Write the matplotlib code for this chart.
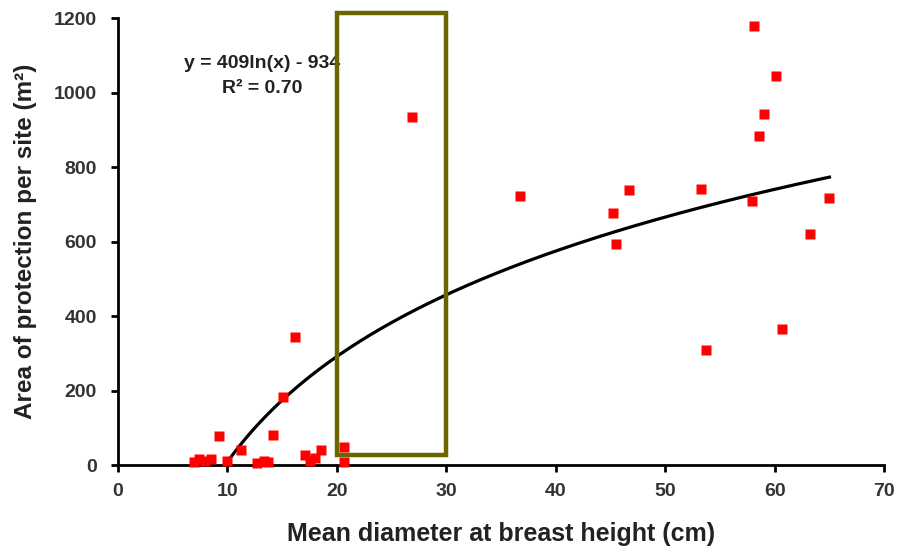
import numpy as np
import matplotlib
matplotlib.use("Agg")
import matplotlib.pyplot as plt
from matplotlib.patches import Rectangle

plt.rcParams['font.family'] = ['Liberation Sans', 'DejaVu Sans']
plt.rcParams['font.weight'] = 'bold'

# Mean diameter at breast height (cm) and area of protection per site (m2)
dbh = [7.0, 7.4, 8.0, 8.5, 9.3, 10.0, 11.3, 12.7, 13.4, 13.7, 14.2, 15.1, 16.2,
       17.1, 17.6, 18.0, 18.6, 20.7, 20.7, 26.9,
       36.7, 45.2, 45.5, 46.7, 53.3, 53.7, 57.9, 58.1, 58.6, 59.0, 60.1, 60.7,
       63.2, 65.0]
area = [8, 15, 12, 15, 78, 10, 40, 5, 10, 8, 80, 183, 343,
        27, 10, 20, 40, 48, 8, 935,
        722, 678, 593, 740, 741, 309, 709, 1179, 884, 942, 1044, 365,
        620, 717]

# fitted logarithmic trend: y = a ln(x) + b
fit_a = 409
fit_b = -934
fit_xmin, fit_xmax = 9.8, 65.0

# highlighted range
box_x = (20, 30)
box_y = (27, 1213)

fig = plt.figure(figsize=(9.05, 5.53), dpi=100)
ax = fig.add_axes([0.130, 0.159, 0.847, 0.808])

xf = np.linspace(fit_xmin, fit_xmax, 300)
ax.plot(xf, fit_a * np.log(xf) + fit_b, color='black', lw=2.3, zorder=2)
ax.plot(dbh, area, 's', color='#ff0000', markersize=7.5, mec='none', zorder=3,
        clip_on=False)

ax.add_patch(Rectangle((box_x[0], box_y[0]), box_x[1] - box_x[0], box_y[1] - box_y[0],
                       fill=False, edgecolor='#6b6500', lw=3.2, zorder=4, clip_on=False))

ax.text(13.2, 1079, "y = 409ln(x) - 934", ha='center', va='center', fontsize=14,
        fontweight='bold', color='#222222')
ax.text(13.2, 1012, "R² = 0.70", ha='center', va='center', fontsize=14,
        fontweight='bold', color='#222222')

ax.set_xlim(0, 70)
ax.set_ylim(0, 1200)
ax.set_xticks(range(0, 71, 10))
ax.set_yticks(range(0, 1201, 200))
for s in ['top', 'right']:
    ax.spines[s].set_visible(False)
for s in ['left', 'bottom']:
    ax.spines[s].set_linewidth(2)
ax.tick_params(width=2, length=5, labelsize=14)
ax.tick_params(axis='y', pad=10)
ax.tick_params(axis='x', pad=8)
for lab in ax.get_xticklabels() + ax.get_yticklabels():
    lab.set_fontweight('bold')
    lab.set_color('#333333')

ax.set_xlabel("Mean diameter at breast height (cm)", fontsize=18, fontweight='bold',
              labelpad=16, color='#222222')
ax.set_ylabel("Area of protection per site (m²)", fontsize=17.5,
              fontweight='bold', labelpad=12, color='#222222')

fig.savefig("out.png", dpi=100)
